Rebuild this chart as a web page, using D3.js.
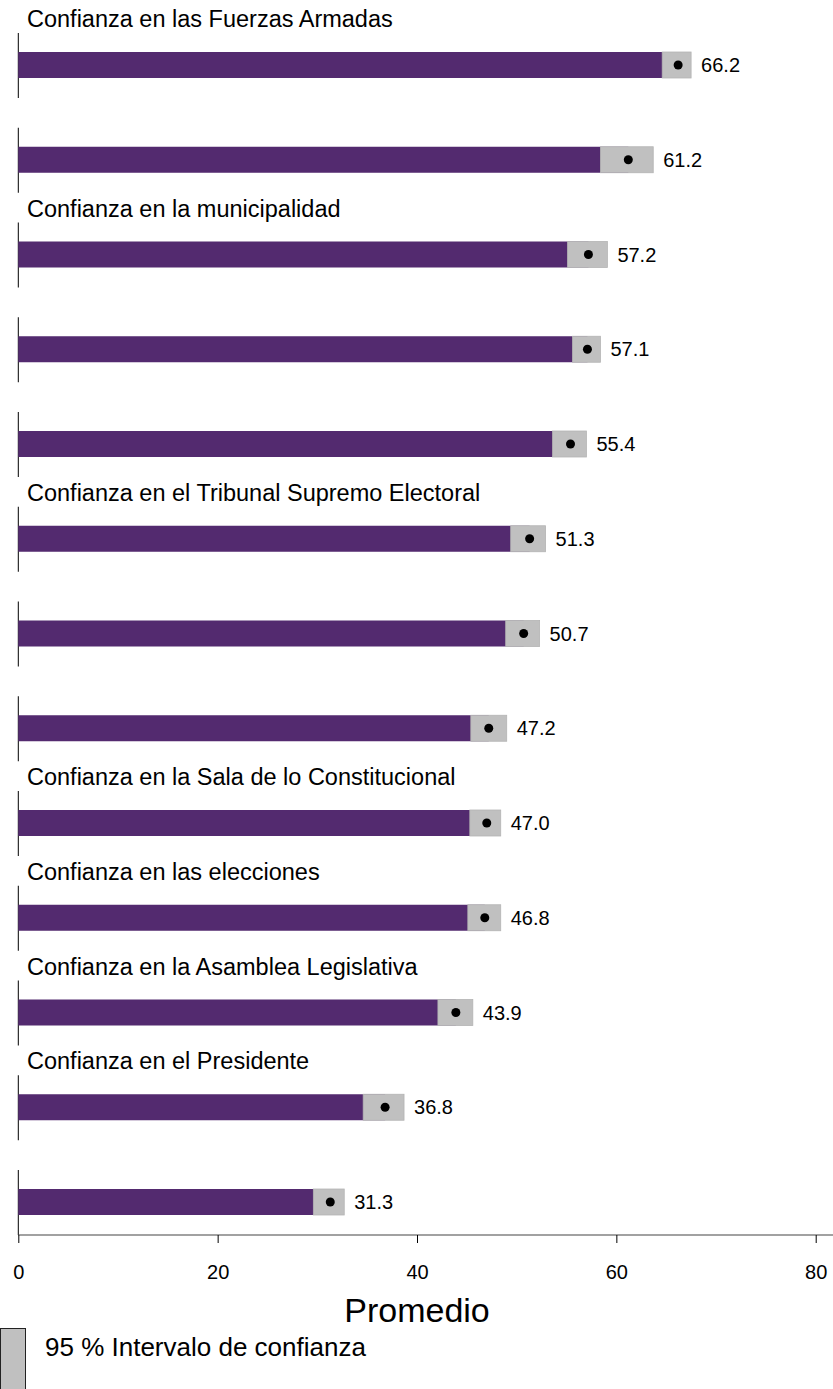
<!DOCTYPE html>
<html>
<head>
<meta charset="utf-8">
<script src="https://cdn.jsdelivr.net/npm/d3@7"></script>
<style>
  body { margin: 0; background: #fff; }
  svg { display: block; font-family: "Liberation Sans", Arial, sans-serif; }
</style>
</head>
<body>
<div id="main-chart"></div>
<script>
var titles = [
  "Confianza en las Fuerzas Armadas",
  "",
  "Confianza en la municipalidad",
  "",
  "",
  "Confianza en el Tribunal Supremo Electoral",
  "",
  "",
  "Confianza en la Sala de lo Constitucional",
  "Confianza en las elecciones",
  "Confianza en la Asamblea Legislativa",
  "Confianza en el Presidente",
  ""
];
var means = [66.2, 61.2, 57.2, 57.1, 55.4, 51.3, 50.7, 47.2, 47.0, 46.8, 43.9, 36.8, 31.3];
var lower = [64.6, 58.4, 55.1, 55.6, 53.6, 49.4, 48.9, 45.4, 45.3, 45.1, 42.1, 34.6, 29.6];
var upper = [67.5, 63.7, 59.1, 58.4, 57.0, 52.9, 52.3, 49.0, 48.4, 48.4, 45.6, 38.7, 32.7];
var xTicks = [0, 20, 40, 60, 80];

var width = 833, height = 1389;
var barColor = "#532a6f", ciColor = "#c0c0c0";

var svg = d3.select("#main-chart")
  .append("svg")
  .attr("width", width)
  .attr("height", height);

var x = d3.scaleLinear().domain([0, 80]).range([18.3, 815.7]);
// top of each panel's vertical line
var row = d3.scaleLinear().domain([0, 12]).range([33, 33 + 12 * 94.75]);

var panelH = 65, barOff = 19, barH = 26;

var data = means.map(function(m, i) {
  return { i: i, title: titles[i], mean: m, lo: lower[i], hi: upper[i] };
});

var panels = svg.selectAll("g.panel")
  .data(data)
  .enter()
  .append("g")
  .attr("class", "panel")
  .attr("transform", d => "translate(0," + row(d.i) + ")");

panels.append("text")
  .attr("x", 27)
  .attr("y", -6)
  .attr("font-size", 23.5)
  .attr("fill", "#000")
  .text(d => d.title);

panels.append("line")
  .attr("x1", x(0)).attr("x2", x(0))
  .attr("y1", 0).attr("y2", panelH)
  .attr("stroke", "#000")
  .attr("stroke-width", 1);

panels.append("rect")
  .attr("x", x(0))
  .attr("y", barOff)
  .attr("width", d => x(d.mean) - x(0))
  .attr("height", barH)
  .attr("fill", barColor);

panels.append("rect")
  .attr("x", d => x(d.lo))
  .attr("y", barOff)
  .attr("width", d => x(d.hi) - x(d.lo))
  .attr("height", barH)
  .attr("fill", ciColor)
  .attr("stroke", "#b4b4b4")
  .attr("stroke-width", 0.8);

panels.append("circle")
  .attr("cx", d => x(d.mean))
  .attr("cy", barOff + barH / 2)
  .attr("r", 4.5)
  .attr("fill", "#000");

panels.append("text")
  .attr("x", d => x(d.hi) + 10)
  .attr("y", barOff + barH / 2)
  .attr("dy", "0.35em")
  .attr("font-size", 20)
  .attr("fill", "#000")
  .text(d => d.mean.toFixed(1));

// bottom axis
var axisY = row(12) + panelH;
svg.append("line")
  .attr("x1", x(0)).attr("x2", width)
  .attr("y1", axisY).attr("y2", axisY)
  .attr("stroke", "#444")
  .attr("stroke-width", 1.2);

var axis = svg.append("g")
  .attr("transform", "translate(0," + axisY + ")")
  .call(d3.axisBottom(x).tickValues(xTicks).tickSize(8).tickPadding(22).tickFormat(d3.format("d")));
axis.select(".domain").remove();
axis.selectAll("text")
  .attr("font-size", 20)
  .attr("font-family", "Liberation Sans, Arial, sans-serif")
  .attr("fill", "#000");
axis.selectAll(".tick line").attr("stroke", "#000");

svg.append("text")
  .attr("x", (x(0) + x(80)) / 2)
  .attr("y", 1322)
  .attr("text-anchor", "middle")
  .attr("font-size", 34)
  .attr("fill", "#000")
  .text("Promedio");

// legend
svg.append("rect")
  .attr("x", 0.5).attr("y", 1328.5)
  .attr("width", 25).attr("height", 70)
  .attr("fill", ciColor)
  .attr("stroke", "#222")
  .attr("stroke-width", 1);

svg.append("text")
  .attr("x", 45)
  .attr("y", 1356)
  .attr("font-size", 26)
  .attr("fill", "#000")
  .text("95 % Intervalo de confianza");
</script>
</body>
</html>
